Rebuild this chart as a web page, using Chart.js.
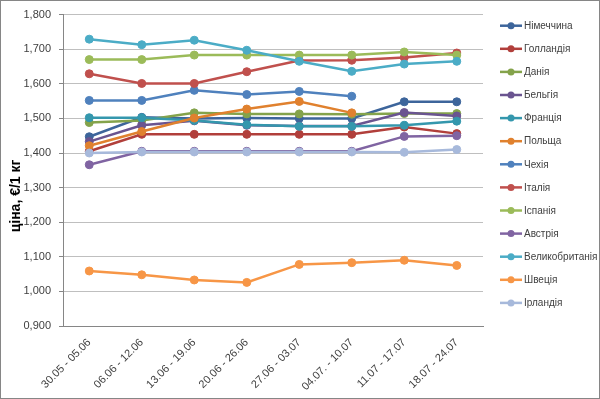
<!DOCTYPE html>
<html>
<head>
<meta charset="utf-8">
<script src="https://cdn.jsdelivr.net/npm/chart.js@4.4.0/dist/chart.umd.min.js"></script>
<style>
  html, body { margin: 0; padding: 0; background: #fff; }
  #wrap { width: 600px; height: 399px; position: relative; }
</style>
</head>
<body>
<div id="wrap"><canvas id="chart" width="600" height="399"></canvas></div>
<script>
// weeks
const weeks = ['30.05 - 05.06', '06.06 - 12.06', '13.06 - 19.06', '20.06 - 26.06',
               '27.06 - 03.07', '04.07. - 10.07', '11.07 - 17.07', '18.07 - 24.07'];

// prices, €/kg
const germany     = [1.447, 1.503, 1.500, 1.501, 1.500, 1.500, 1.548, 1.548];
const netherlands = [1.405, 1.454, 1.454, 1.454, 1.454, 1.454, 1.475, 1.456];
const denmark     = [1.488, 1.494, 1.516, 1.513, 1.513, 1.512, 1.514, 1.514];
const belgium     = [1.433, 1.480, 1.493, 1.480, 1.478, 1.478, 1.517, 1.507];
const france      = [1.502, 1.502, 1.494, 1.482, 1.477, 1.477, 1.480, 1.492];
const poland      = [1.421, 1.462, 1.501, 1.527, 1.549, 1.516, null, null];
const czechia     = [1.552, 1.552, 1.581, 1.569, 1.578, 1.564, null, null];
const italy       = [1.629, 1.601, 1.601, 1.635, 1.667, 1.668, 1.676, 1.689];
const spain       = [1.670, 1.670, 1.683, 1.683, 1.683, 1.683, 1.692, 1.683];
const austria     = [1.366, 1.405, 1.405, 1.405, 1.405, 1.405, 1.448, 1.450];
const uk          = [1.729, 1.713, 1.726, 1.697, 1.665, 1.636, 1.657, 1.665];
const sweden      = [1.059, 1.048, 1.033, 1.026, 1.078, 1.083, 1.090, 1.075];
const ireland     = [1.400, 1.403, 1.403, 1.403, 1.403, 1.403, 1.402, 1.410];

const seriesList = [
    {label: 'Німеччина', data: germany, color: '#3D659B'},
    {label: 'Голландія', data: netherlands, color: '#B13F3B'},
    {label: 'Данія', data: denmark, color: '#84A34B'},
    {label: 'Бельгія', data: belgium, color: '#6A5490'},
    {label: 'Франція', data: france, color: '#3497AD'},
    {label: 'Польща', data: poland, color: '#E0812E'},
    {label: 'Чехія', data: czechia, color: '#4F81BD'},
    {label: 'Італія', data: italy, color: '#C0504D'},
    {label: 'Іспанія', data: spain, color: '#9BBB59'},
    {label: 'Австрія', data: austria, color: '#8064A2'},
    {label: 'Великобританія', data: uk, color: '#4BACC6'},
    {label: 'Швеція', data: sweden, color: '#F79646'},
    {label: 'Ірландія', data: ireland, color: '#A7B9DB'},
];

const yMin = 0.9, yMax = 1.8, yStep = 0.1;
const textColor = '#404040';
const tickFont = {family: 'Liberation Sans', size: 11};

const datasets = seriesList.map((s, i) => ({
    label: s.label,
    data: s.data,
    borderColor: s.color,
    backgroundColor: s.color,
    borderWidth: 2.5,
    pointRadius: 4,
    pointBorderWidth: 1,
    pointBackgroundColor: s.color,
    pointBorderColor: s.color,
    tension: 0,
    spanGaps: false,
    order: seriesList.length - i   // later series on top, like Excel
}));

// legend + frame + axis title drawn by hand
const extrasPlugin = {
    id: 'extras',
    afterDraw(chart) {
        const ctx = chart.ctx;
        ctx.save();

        ctx.strokeStyle = '#868686';
        ctx.lineWidth = 1;
        ctx.strokeRect(0.5, 0.5, chart.width - 1, chart.height - 1);

        ctx.fillStyle = '#000';
        ctx.font = 'bold 14px "Liberation Sans"';
        ctx.translate(16, 196);
        ctx.rotate(-Math.PI / 2);
        ctx.textAlign = 'center';
        ctx.textBaseline = 'middle';
        ctx.fillText('ціна, €/1 кг', 0, 0);
        ctx.setTransform(1, 0, 0, 1, 0, 0);

        ctx.font = '10px "Liberation Sans"';
        ctx.textAlign = 'left';
        seriesList.forEach((s, i) => {
            const y = 25.7 + i * 23.1;
            ctx.strokeStyle = s.color;
            ctx.lineWidth = 2.5;
            ctx.beginPath();
            ctx.moveTo(500, y);
            ctx.lineTo(522, y);
            ctx.stroke();
            ctx.fillStyle = s.color;
            ctx.beginPath();
            ctx.arc(511, y, 3.5, 0, Math.PI * 2);
            ctx.fill();
            ctx.fillStyle = textColor;
            ctx.fillText(s.label, 524, y + 0.5);
        });
        ctx.restore();
    }
};

new Chart(document.getElementById('chart'), {
    type: 'line',
    data: {labels: weeks, datasets: datasets},
    options: {
        responsive: false,
        animation: false,
        layout: {padding: {top: 12, right: 117, left: 0, bottom: 0}},
        plugins: {
            legend: {display: false},
            tooltip: {enabled: false}
        },
        scales: {
            x: {
                offset: true,
                grid: {display: false},
                border: {display: true, color: '#868686'},
                ticks: {
                    color: textColor,
                    font: tickFont,
                    minRotation: 45,
                    maxRotation: 45,
                    padding: 2
                },
                afterFit(scale) { scale.height = 73; }
            },
            y: {
                min: yMin,
                max: yMax,
                ticks: {
                    stepSize: yStep,
                    color: textColor,
                    font: tickFont,
                    padding: 8,
                    callback: (v) => v.toFixed(3).replace('.', ',')
                },
                grid: {color: '#bfbfbf', tickLength: 4, tickColor: '#868686'},
                border: {display: true, color: '#868686'},
                afterFit(scale) { scale.width = 63; }
            }
        }
    },
    plugins: [extrasPlugin]
});
</script>
</body>
</html>
